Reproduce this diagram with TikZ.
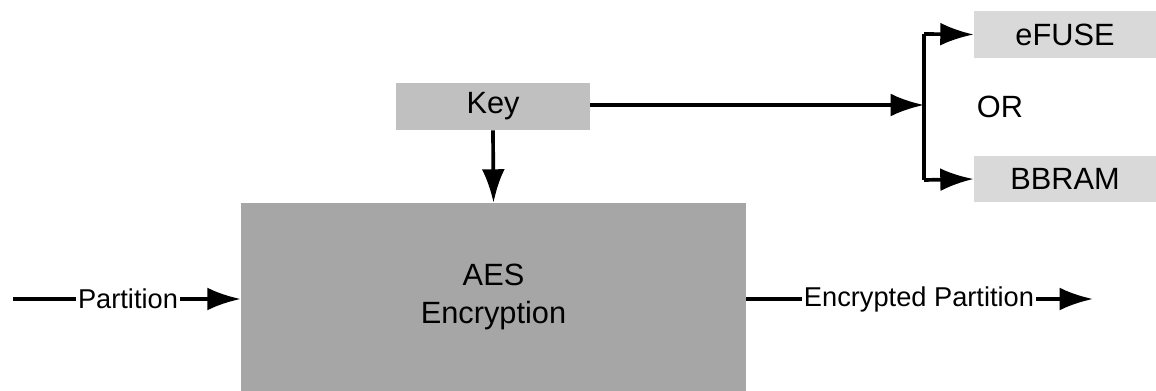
\documentclass[tikz,border=0pt]{standalone}
\usepackage{fontspec}
\setmainfont{Liberation Sans}
\usetikzlibrary{arrows.meta}
\definecolor{keygray}{RGB}{192,192,192}
\definecolor{aesgray}{RGB}{166,166,166}
\definecolor{memgray}{RGB}{217,217,217}
\tikzset{
  box/.style={shape=rectangle,inner sep=0pt,font=\fontsize{17.5}{22}\selectfont},
  lbl/.style={inner sep=1pt,font=\fontsize{15.5}{18}\selectfont},
  arr/.style={line width=2.1pt,-{Latex[length=19pt,width=13pt]}},
  ln/.style={line width=2.1pt}
}
\begin{document}
\begin{tikzpicture}[x=0.02cm,y=-0.02cm]
\useasboundingbox (0,0) rectangle (1156,391);
\node[box,fill=keygray,minimum width=3.88cm,minimum height=0.94cm] (K) at (493,106.5) {Key};
\node[box,fill=aesgray,minimum width=10.1cm,minimum height=3.76cm,align=center] (AES) at (493.5,297) {AES\\Encryption};
\node[box,fill=memgray,minimum width=3.64cm,minimum height=0.94cm] (EF) at (1065,34.5) {eFUSE};
\node[box,fill=memgray,minimum width=3.64cm,minimum height=0.92cm] (BB) at (1065,179) {BBRAM};
\node[box] (OR) at (1000,107) {OR};
\node[lbl] (P) at (128,299) {Partition};
\node[lbl] (EP) at (919,299) {Encrypted Partition};
\coordinate (I) at (13,299);
\coordinate (O) at (1093,299);
\coordinate (J) at (924,105);
\coordinate (Jt) at (924,34);
\coordinate (Jb) at (924,180);
\path [arr] (K.south) edge (AES.north |- AES.north);
\path [arr] (K.east |- J) edge (J);
\draw [ln,line join=miter] (Jb) -- (Jt);
\path [arr] (Jt) edge (EF.west);
\path [arr] (Jb) edge (BB.west);
\path [ln] (I) edge (P.west);
\path [arr] (P.east) edge (AES.west |- P.east);
\path [ln] (AES.east |- EP.west) edge (EP.west);
\path [arr] (EP.east) edge (O);
\end{tikzpicture}
\end{document}
